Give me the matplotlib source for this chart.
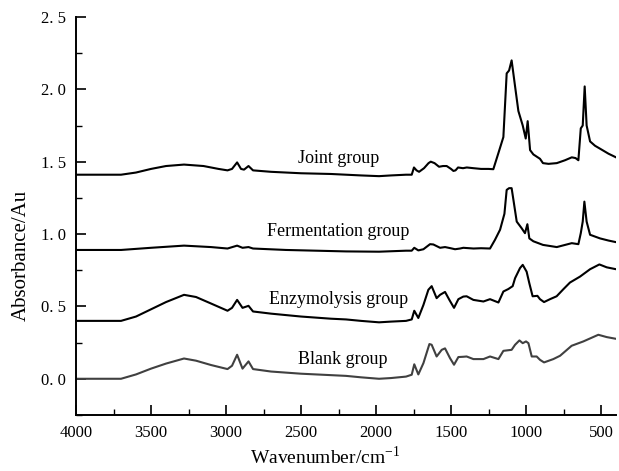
import matplotlib
matplotlib.use('Agg')
import matplotlib.pyplot as plt
from matplotlib.ticker import MultipleLocator, FuncFormatter

plt.rcParams['font.family'] = ['Liberation Serif', 'DejaVu Serif']
plt.rcParams['mathtext.fontset'] = 'custom'
plt.rcParams['mathtext.rm'] = 'Liberation Serif'

# 吸光度スペクトル (wavenumber, absorbance) — 画像から読み取り
joint_wn = [4000, 3800, 3700, 3600, 3500, 3400, 3280, 3150, 3050, 2990, 2960, 2926, 2900, 2880,
            2850, 2820, 2700, 2500, 2300, 2200, 2100, 1980, 1900, 1800, 1762, 1747, 1730, 1713,
            1680, 1650, 1635, 1610, 1580, 1553, 1529, 1500, 1484, 1470, 1453, 1420, 1395, 1350,
            1300, 1250, 1218, 1184, 1151, 1129, 1113, 1096, 1073, 1051, 1022, 1002, 989, 973,
            951, 907, 887, 850, 795, 740, 695, 670, 651, 635, 622, 609, 596, 573, 540, 507, 450, 400]
joint_ab = [1.41, 1.41, 1.41, 1.425, 1.45, 1.47, 1.48, 1.47, 1.45, 1.44, 1.45, 1.495, 1.45, 1.445,
            1.47, 1.44, 1.43, 1.42, 1.415, 1.41, 1.405, 1.40, 1.405, 1.41, 1.41, 1.46, 1.44, 1.43,
            1.455, 1.49, 1.50, 1.49, 1.465, 1.47, 1.47, 1.45, 1.436, 1.44, 1.46, 1.455, 1.46, 1.455,
            1.45, 1.45, 1.448, 1.56, 1.67, 2.11, 2.13, 2.20, 2.02, 1.85, 1.75, 1.66, 1.78, 1.58,
            1.55, 1.52, 1.49, 1.485, 1.49, 1.51, 1.53, 1.525, 1.51, 1.73, 1.75, 2.02, 1.75, 1.64,
            1.61, 1.59, 1.555, 1.53]

ferm_wn = [4000, 3700, 3500, 3280, 3100, 2990, 2926, 2890, 2850, 2820, 2600, 2400, 2200, 1980,
           1800, 1762, 1745, 1718, 1684, 1640, 1618, 1573, 1540, 1507, 1473, 1440, 1418, 1350,
           1300, 1240, 1207, 1173, 1144, 1129, 1113, 1096, 1084, 1062, 1029, 1007, 991, 978, 951,
           887, 795, 695, 651, 635, 622, 611, 596, 573, 507, 450, 400]
ferm_ab = [0.89, 0.89, 0.905, 0.92, 0.91, 0.90, 0.92, 0.905, 0.91, 0.90, 0.89, 0.885, 0.88, 0.878,
           0.885, 0.885, 0.905, 0.887, 0.895, 0.93, 0.928, 0.905, 0.91, 0.903, 0.895, 0.90, 0.905, 0.90,
           0.902, 0.90, 0.96, 1.03, 1.14, 1.305, 1.317, 1.317, 1.236, 1.086, 1.04, 1.006, 1.068, 0.97, 0.95,
           0.925, 0.91, 0.937, 0.93, 1.006, 1.086, 1.224, 1.086, 0.995, 0.97, 0.955, 0.944]

enz_wn = [4000, 3700, 3600, 3500, 3400, 3280, 3200, 3100, 2990, 2960, 2926, 2890, 2850, 2820,
          2700, 2500, 2300, 2200, 2100, 1980, 1900, 1800, 1762, 1745, 1718, 1684, 1651, 1629,
          1596, 1573, 1540, 1511, 1480, 1451, 1418, 1396, 1351, 1284, 1240, 1184, 1151, 1118,
          1089, 1073, 1040, 1022, 996, 978, 956, 924, 907, 880, 840, 796, 750, 707, 640, 573,
          511, 462, 400]
enz_ab = [0.40, 0.40, 0.43, 0.48, 0.53, 0.58, 0.565, 0.52, 0.47, 0.49, 0.545, 0.49, 0.504, 0.465,
          0.45, 0.43, 0.415, 0.41, 0.40, 0.39, 0.395, 0.40, 0.41, 0.47, 0.42, 0.51, 0.615, 0.64,
          0.557, 0.58, 0.60, 0.545, 0.49, 0.55, 0.568, 0.57, 0.545, 0.534, 0.55, 0.527, 0.603, 0.62,
          0.64, 0.695, 0.765, 0.787, 0.74, 0.66, 0.57, 0.573, 0.55, 0.53, 0.55, 0.57, 0.62, 0.665,
          0.706, 0.757, 0.79, 0.77, 0.757]

blank_wn = [4000, 3700, 3600, 3500, 3400, 3280, 3200, 3100, 2990, 2960, 2926, 2890, 2850, 2820,
            2700, 2500, 2300, 2200, 2100, 1980, 1900, 1800, 1762, 1745, 1718, 1684, 1644, 1629,
            1596, 1562, 1540, 1507, 1480, 1451, 1418, 1396, 1351, 1284, 1240, 1184, 1151, 1096,
            1073, 1044, 1022, 1000, 984, 962, 929, 907, 880, 818, 773, 696, 618, 518, 462, 400]
blank_ab = [0.0, 0.0, 0.03, 0.07, 0.105, 0.14, 0.125, 0.095, 0.067, 0.09, 0.166, 0.07, 0.12, 0.067,
            0.05, 0.035, 0.025, 0.02, 0.01, 0.0, 0.005, 0.015, 0.028, 0.10, 0.03, 0.108, 0.24, 0.235,
            0.154, 0.20, 0.21, 0.143, 0.097, 0.15, 0.152, 0.154, 0.136, 0.136, 0.154, 0.136, 0.193, 0.20,
            0.235, 0.265, 0.246, 0.258, 0.246, 0.154, 0.154, 0.131, 0.113, 0.136, 0.159, 0.228, 0.258,
            0.304, 0.288, 0.276]

group_names = ['Joint group', 'Fermentation group', 'Enzymolysis group', 'Blank group']
label_pos = [(2250, 1.52), (2255, 1.015), (2250, 0.545), (2220, 0.13)]

fig = plt.figure(figsize=(6.19, 4.71), dpi=100)
ax = fig.add_axes([0.1228, 0.119, 0.8724, 0.845])

series = [(joint_wn, joint_ab, 'black'), (ferm_wn, ferm_ab, 'black'),
          (enz_wn, enz_ab, 'black'), (blank_wn, blank_ab, '#404040')]
for wn, ab, col in series:
    ax.plot(wn, ab, color=col, linewidth=1.5)

for name, (x, y) in zip(group_names, label_pos):
    ax.text(x, y, name, ha='center', va='center', fontsize=13)

ax.set_xlim(4000, 400)
ax.set_ylim(-0.25, 2.5)
ax.xaxis.set_major_locator(MultipleLocator(500))
ax.xaxis.set_minor_locator(MultipleLocator(250))
ax.yaxis.set_major_locator(MultipleLocator(0.5))
ax.yaxis.set_minor_locator(MultipleLocator(0.25))
ax.yaxis.set_major_formatter(FuncFormatter(lambda v, p: f'{v:.1f}'.replace('.', '. ')))

for s in ('top', 'right'):
    ax.spines[s].set_visible(False)
for s in ('left', 'bottom'):
    ax.spines[s].set_linewidth(1.4)
ax.tick_params(which='major', direction='in', length=7, width=1.2, labelsize=12, pad=7)
ax.tick_params(which='minor', direction='in', length=4, width=1.0)

ax.set_xlabel('Wavenumber/cm$^{-1}$', fontsize=14)
ax.set_ylabel('Absorbance/Au', fontsize=15)
ax.xaxis.set_label_coords(0.461, -0.078)
ax.yaxis.set_label_coords(-0.083, 0.40)

fig.savefig('out.png', dpi=100)
